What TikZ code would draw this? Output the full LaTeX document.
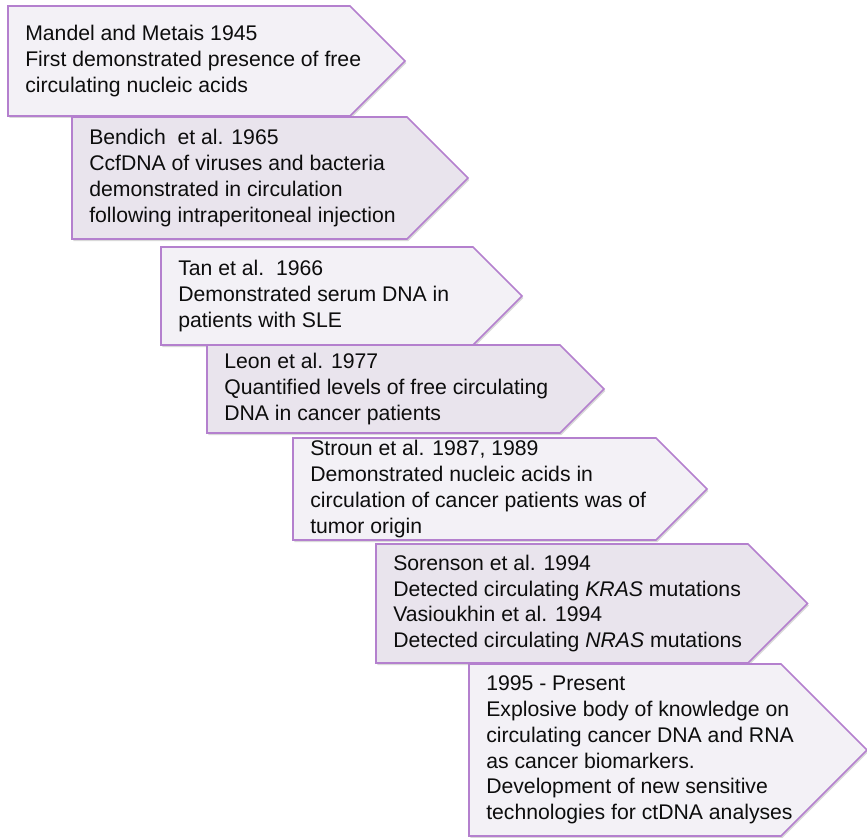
\documentclass[tikz,border=0pt]{standalone}
\usepackage{fontspec}
\setmainfont{Liberation Sans}
\usetikzlibrary{shadows}
\definecolor{tlborder}{RGB}{180,128,206}
\definecolor{tllight}{RGB}{243,241,246}
\definecolor{tldark}{RGB}{233,228,237}

\begin{document}
\begin{tikzpicture}[x=0.75pt, y=-0.75pt,
	tlarrow/.style={draw=tlborder, line width=1.2pt, line join=miter, drop shadow={shadow xshift=1pt, shadow yshift=-1.5pt, opacity=0.3}},
	tltext/.style={anchor=west, align=left, inner sep=0pt, font=\fontsize{15.9pt}{19.3pt}\selectfont, text=black!95}]
	\useasboundingbox (0,0) rectangle (867,838);
	% name / left / top / bottom / corner / fill / text
	\foreach \nm/\l/\t/\b/\c/\f/\txt in {
		mandel/8/6/116/350/tllight/{Mandel and Metais 1945\\First demonstrated presence of free\\circulating nucleic acids},
		bendich/72/117/239/407/tldark/{Bendich\ \ et al. 1965\\CcfDNA of viruses and bacteria\\demonstrated in circulation\\following intraperitoneal injection},
		tan/161/247/345/473/tllight/{Tan et al.\ \ 1966\\Demonstrated serum DNA in\\patients with SLE},
		leon/207/345/433/560/tldark/{Leon et al. 1977\\Quantified levels of free circulating\\DNA in cancer patients},
		stroun/293/438/540/656/tllight/{Stroun et al. 1987, 1989\\Demonstrated nucleic acids in\\circulation of cancer patients was of\\tumor origin},
		sorenson/376/544/663/748/tldark/{Sorenson et al. 1994\\Detected circulating \textit{KRAS} mutations\\Vasioukhin et al. 1994\\Detected circulating \textit{NRAS} mutations},
		present/469/664/836/781/tllight/{1995 - Present\\Explosive body of knowledge on\\circulating cancer DNA and RNA\\as cancer biomarkers.\\Development of new sensitive\\technologies for ctDNA analyses}}
	{
		\draw[tlarrow, fill=\f] (\l,\t) -- (\c,\t) -- ({\c+(\b-\t)/2},{(\t+\b)/2}) -- (\c,\b) -- (\l,\b) -- cycle;
		\node[tltext] (\nm) at ({\l+17},{(\t+\b)/2}) {\txt};
	}
\end{tikzpicture}
\end{document}
